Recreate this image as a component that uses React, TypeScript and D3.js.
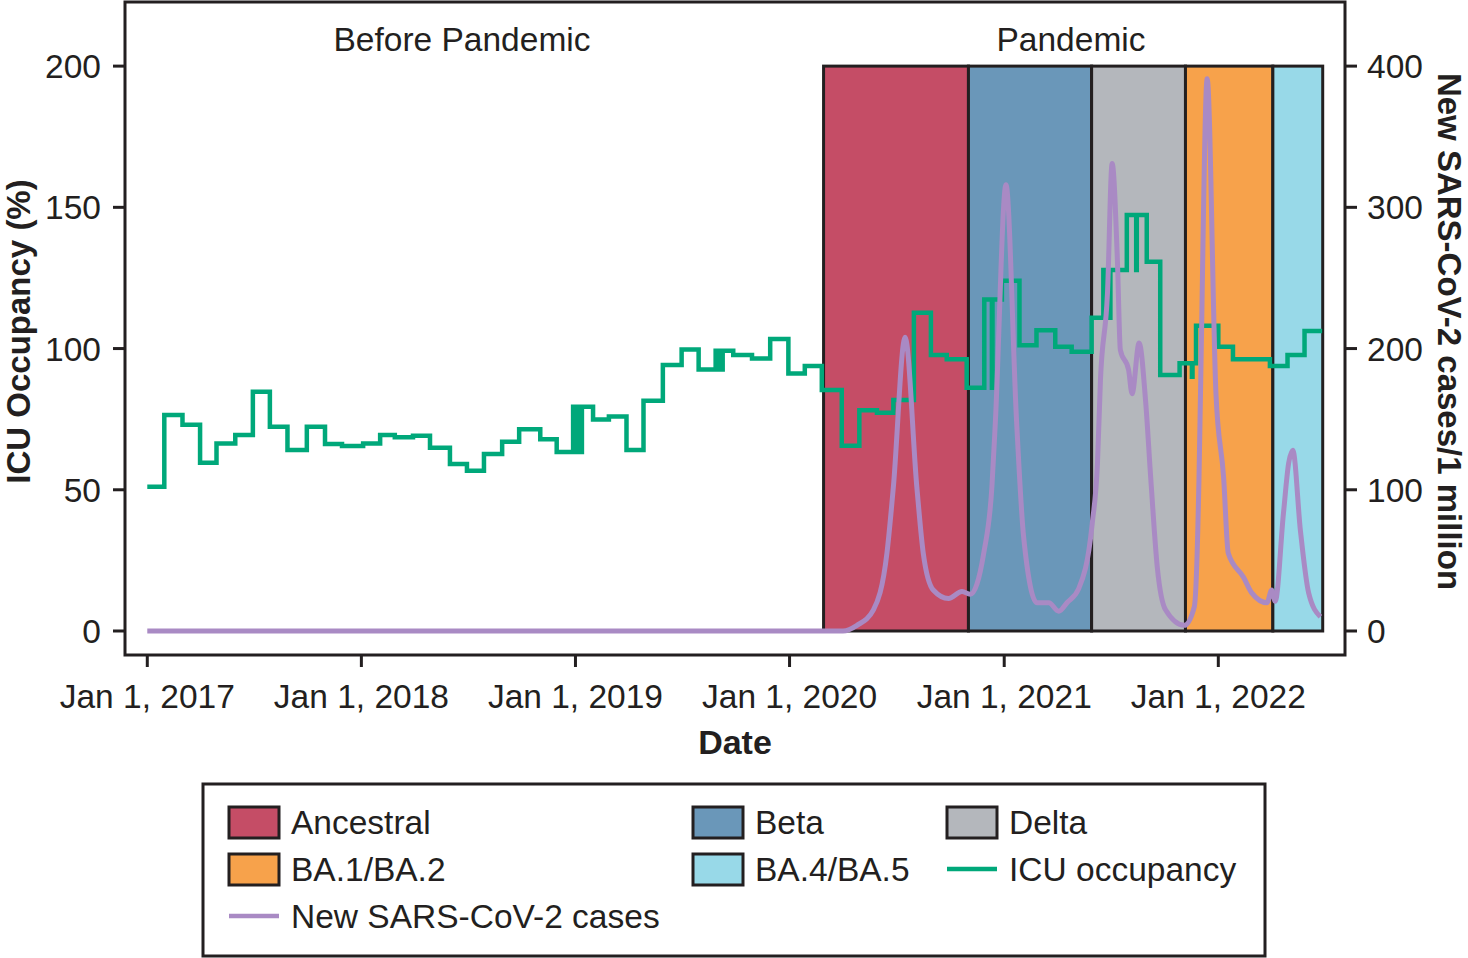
import React from "react";
import * as d3 from "d3";

// ---------- data ----------
const leftTicks = [0, 50, 100, 150, 200];
const rightTicks = [0, 100, 200, 300, 400];
const xTickDates = ["2017-01-01", "2018-01-01", "2019-01-01", "2020-01-01", "2021-01-01", "2022-01-01"];
const xTickLabels = ["Jan 1, 2017", "Jan 1, 2018", "Jan 1, 2019", "Jan 1, 2020", "Jan 1, 2021", "Jan 1, 2022"];

const variantNames = ["Ancestral", "Beta", "Delta", "BA.1/BA.2", "BA.4/BA.5"];
const variantStarts = ["2020-02-28", "2020-11-01", "2021-05-30", "2021-11-06", "2022-04-04"];
const variantEnds = ["2020-11-01", "2021-05-30", "2021-11-06", "2022-04-04", "2022-06-28"];
const variantColors = ["#C54D66", "#6A97B9", "#B4B7BC", "#F7A24B", "#98D9E8"];

// ICU occupancy (%), step-after series
const icuDates = [
  "2017-01-01", "2017-01-30", "2017-03-02", "2017-04-01", "2017-04-29", "2017-05-31", "2017-06-30",
  "2017-07-29", "2017-08-28", "2017-09-30", "2017-10-31", "2017-11-29", "2018-01-04", "2018-02-02",
  "2018-02-27", "2018-03-30", "2018-04-28", "2018-06-01", "2018-06-30", "2018-07-29", "2018-08-29",
  "2018-09-27", "2018-11-02", "2018-11-30",
  "2018-12-28", "2018-12-31", "2019-01-02", "2019-01-05", "2019-01-07", "2019-01-10", "2019-01-12",
  "2019-01-31", "2019-02-27", "2019-03-29", "2019-04-27", "2019-05-30", "2019-07-01", "2019-07-30",
  "2019-08-28", "2019-08-31", "2019-09-03", "2019-09-06", "2019-09-09", "2019-09-13",
  "2019-09-27", "2019-10-29", "2019-11-29", "2019-12-30", "2020-01-27", "2020-02-25", "2020-03-30",
  "2020-04-29", "2020-05-29", "2020-06-26", "2020-07-31", "2020-08-29", "2020-09-25", "2020-10-29",
  "2020-11-28", "2020-12-11", "2020-12-12", "2020-12-28", "2021-01-27", "2021-02-25", "2021-03-29",
  "2021-04-26", "2021-05-30",
  "2021-06-19", "2021-06-22", "2021-06-25", "2021-06-28", "2021-07-01", "2021-07-06",
  "2021-07-29", "2021-08-14", "2021-08-15", "2021-09-01", "2021-09-24", "2021-10-27", "2021-11-17",
  "2021-11-18", "2021-11-24", "2022-01-01", "2022-01-26", "2022-03-30", "2022-04-29", "2022-05-28",
  "2022-06-27",
];
const icuValues = [
  51.1, 76.5, 73, 59.6, 66.4, 69.4, 84.7,
  72.3, 64.1, 72.3, 66.2, 65.5, 66.4, 69.4,
  68.6, 69.1, 64.9, 59.1, 56.7, 62.7, 67,
  71.4, 67.9, 63.4,
  79.4, 63.4, 79.4, 63.4, 79.4, 63.4, 79.4,
  74.9, 75.9, 64.1, 81.5, 94.2, 99.7, 92.6,
  99.2, 92.6, 99.2, 92.6, 99.2, 99.2,
  97.7, 96.5, 103.4, 91.2, 93.8, 85.3, 65.6,
  78.2, 77.3, 81.8, 112.7, 97.7, 96.2, 86.1,
  117.4, 86.1, 117.4, 124, 101.2, 106.5, 100.6,
  98.9, 110.9,
  127.8, 110.9, 127.8, 110.9, 127.8, 127.8,
  147.3, 127.8, 147.3, 130.7, 90.6, 94.8, 90,
  94.8, 108.1, 100.6, 96.2, 93.8, 97.7, 106.2,
  106.2,
];

// New SARS-CoV-2 cases per 1 million
const caseDates = [
  "2017-01-01", "2020-04-01", "2020-04-25", "2020-05-23", "2020-06-15", "2020-06-26", "2020-07-16",
  "2020-08-05", "2020-08-16", "2020-09-02", "2020-09-28", "2020-10-21", "2020-11-04", "2020-11-27",
  "2020-12-11", "2020-12-17", "2021-01-04", "2021-01-22", "2021-02-03", "2021-02-26", "2021-03-18",
  "2021-04-04", "2021-04-18", "2021-05-08", "2021-05-31", "2021-06-09", "2021-06-14", "2021-06-26",
  "2021-07-04", "2021-07-13", "2021-07-18", "2021-08-01", "2021-08-07", "2021-08-19", "2021-08-30",
  "2021-09-08", "2021-09-19", "2021-10-03", "2021-11-04", "2021-11-21", "2021-11-29", "2021-12-02",
  "2021-12-13", "2021-12-28", "2022-01-10", "2022-01-18", "2022-02-13", "2022-02-27", "2022-03-25",
  "2022-04-02", "2022-04-08", "2022-04-22", "2022-05-01", "2022-05-08", "2022-05-21", "2022-06-04",
  "2022-06-24",
];
const caseValues = [
  0, 0, 4, 15, 55, 102, 208,
  102, 55, 29, 23, 28, 26, 55,
  102, 149, 316, 149, 67, 20, 20,
  14, 20, 30, 76, 119, 177, 239,
  331, 262, 199, 185, 168, 204, 163,
  107, 45, 15, 4, 17, 107, 177,
  391, 168, 109, 55, 38, 27, 20,
  29, 21, 83, 119, 128, 71, 27,
  10,
];

const legendLabels = ["Ancestral", "Beta", "Delta", "BA.1/BA.2", "BA.4/BA.5", "ICU occupancy", "New SARS-CoV-2 cases"];

// ---------- layout ----------
const W = 1468;
const H = 958;
const FONT = "'Liberation Sans', Arial, Helvetica, sans-serif";
const INK = "#231f20";
const ICU_COLOR = "#00A87A";
const CASE_COLOR = "#A98AC4";

export default function App() {
  const parse = d3.utcParse("%Y-%m-%d");
  const frame = { left: 125, right: 1345, top: 2, bottom: 655 };

  const x = d3
    .scaleUtc()
    .domain([parse("2016-11-24")!, parse("2022-08-05")!])
    .range([frame.left, frame.right]);
  const yL = d3.scaleLinear().domain([-8.5, 222.7]).range([frame.bottom, frame.top]);
  const yR = d3.scaleLinear().domain([-17, 445.4]).range([frame.bottom, frame.top]);

  const icu = icuDates.map((d, i) => ({ d: parse(d)!, v: icuValues[i] }));
  const cases = caseDates.map((d, i) => ({ d: parse(d)!, v: caseValues[i] }));

  const icuLine = d3
    .line<{ d: Date; v: number }>()
    .x((p) => x(p.d))
    .y((p) => yL(p.v))
    .curve(d3.curveStepAfter)(icu)!;
  const caseLine = d3
    .line<{ d: Date; v: number }>()
    .x((p) => x(p.d))
    .y((p) => yR(p.v))
    .curve(d3.curveMonotoneX)(cases)!;

  const fs = 33.5;
  const fsB = 34;
  const fsT = 33;

  // legend layout
  const lg = { x: 203, y: 784, w: 1062, h: 172 };
  const colX = [229, 693, 947];
  const rowY = [822, 869, 916];
  const legendItems = [
    { label: legendLabels[0], kind: "rect", color: variantColors[0], col: 0, row: 0 },
    { label: legendLabels[1], kind: "rect", color: variantColors[1], col: 1, row: 0 },
    { label: legendLabels[2], kind: "rect", color: variantColors[2], col: 2, row: 0 },
    { label: legendLabels[3], kind: "rect", color: variantColors[3], col: 0, row: 1 },
    { label: legendLabels[4], kind: "rect", color: variantColors[4], col: 1, row: 1 },
    { label: legendLabels[5], kind: "line", color: ICU_COLOR, col: 2, row: 1 },
    { label: legendLabels[6], kind: "line", color: CASE_COLOR, col: 0, row: 2 },
  ];

  const midY = (yL(0) + 30 + frame.top) / 2;

  return (
    <svg
      width={W}
      height={H}
      viewBox={`0 0 ${W} ${H}`}
      style={{ position: "absolute", left: 0, top: 0, background: "#fff" }}
      fontFamily={FONT}
    >
      {/* variant periods */}
      {variantNames.map((n, i) => (
        <rect
          key={n}
          x={x(parse(variantStarts[i])!)}
          y={yL(200)}
          width={x(parse(variantEnds[i])!) - x(parse(variantStarts[i])!)}
          height={yL(0) - yL(200)}
          fill={variantColors[i]}
          stroke={INK}
          strokeWidth={3}
        />
      ))}

      {/* ICU line */}
      <path d={icuLine} fill="none" stroke={ICU_COLOR} strokeWidth={4.5} strokeLinejoin="miter" />
      {/* cases line */}
      <path d={caseLine} fill="none" stroke={CASE_COLOR} strokeWidth={5} strokeLinejoin="round" />

      {/* frame */}
      <rect
        x={frame.left}
        y={frame.top}
        width={frame.right - frame.left}
        height={frame.bottom - frame.top}
        fill="none"
        stroke={INK}
        strokeWidth={3}
      />

      {/* left axis */}
      {leftTicks.map((t) => (
        <g key={"l" + t}>
          <line x1={frame.left - 12} x2={frame.left} y1={yL(t)} y2={yL(t)} stroke={INK} strokeWidth={3} />
          <text x={frame.left - 24} y={yL(t) + 12} textAnchor="end" fontSize={fs} fill={INK}>
            {t}
          </text>
        </g>
      ))}
      {/* right axis */}
      {rightTicks.map((t) => (
        <g key={"r" + t}>
          <line x1={frame.right} x2={frame.right + 12} y1={yR(t)} y2={yR(t)} stroke={INK} strokeWidth={3} />
          <text x={frame.right + 22} y={yR(t) + 12} textAnchor="start" fontSize={fs} fill={INK}>
            {t}
          </text>
        </g>
      ))}
      {/* bottom axis */}
      {xTickDates.map((d, i) => (
        <g key={d}>
          <line
            x1={x(parse(d)!)}
            x2={x(parse(d)!)}
            y1={frame.bottom}
            y2={frame.bottom + 12}
            stroke={INK}
            strokeWidth={3}
          />
          <text x={x(parse(d)!)} y={frame.bottom + 53} textAnchor="middle" fontSize={fs} fill={INK}>
            {xTickLabels[i]}
          </text>
        </g>
      ))}

      {/* axis titles */}
      <text x={735} y={754} textAnchor="middle" fontSize={fsB} fontWeight="bold" fill={INK}>
        Date
      </text>
      <text
        transform={`translate(30, ${midY}) rotate(-90)`}
        textAnchor="middle"
        fontSize={fsT}
        fontWeight="bold"
        fill={INK}
      >
        ICU Occupancy (%)
      </text>
      <text
        transform={`translate(1438, ${midY}) rotate(90)`}
        textAnchor="middle"
        fontSize={fsT}
        fontWeight="bold"
        fill={INK}
      >
        New SARS-CoV-2 cases/1 million
      </text>

      {/* period labels */}
      <text x={462} y={51} textAnchor="middle" fontSize={fs} fill={INK}>
        Before Pandemic
      </text>
      <text x={1071} y={51} textAnchor="middle" fontSize={fs} fill={INK}>
        Pandemic
      </text>

      {/* legend */}
      <rect x={lg.x} y={lg.y} width={lg.w} height={lg.h} fill="#fff" stroke={INK} strokeWidth={3} />
      {legendItems.map((it) => {
        const cx = colX[it.col];
        const cy = rowY[it.row];
        return (
          <g key={it.label}>
            {it.kind === "rect" ? (
              <rect x={cx} y={cy - 15} width={50} height={31} fill={it.color} stroke={INK} strokeWidth={3} />
            ) : (
              <line x1={cx} x2={cx + 50} y1={cy} y2={cy} stroke={it.color} strokeWidth={4.5} />
            )}
            <text x={cx + 62} y={cy + 12} fontSize={fs} fill={INK}>
              {it.label}
            </text>
          </g>
        );
      })}
    </svg>
  );
}
